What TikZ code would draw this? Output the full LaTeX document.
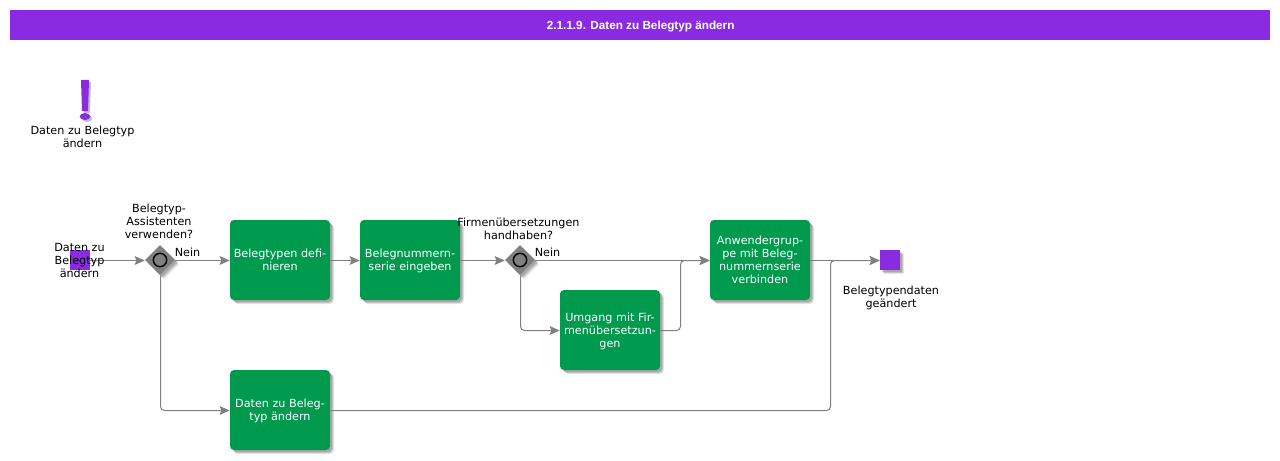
\documentclass[tikz,border=0pt]{standalone}
\usepackage{fontspec}
\setmainfont{DejaVu Sans}
\newfontfamily\titlefont{Liberation Sans}
\usetikzlibrary{shapes.geometric,shadows,arrows.meta}
\definecolor{bpurple}{HTML}{8A2BE2}
\definecolor{bgreen}{HTML}{009A4E}
\definecolor{bgray}{HTML}{808080}
\tikzset{
  softshadow/.style={
    general shadow={shadow xshift=3pt,shadow yshift=-3pt,fill=black,opacity=.10},
    general shadow={shadow xshift=2.25pt,shadow yshift=-2.25pt,fill=black,opacity=.14},
    general shadow={shadow xshift=1.5pt,shadow yshift=-1.5pt,fill=black,opacity=.14}},
  taskbox/.style={rectangle,rounded corners=3pt,fill=bgreen,text=white,minimum width=75pt,minimum height=60pt,inner sep=0pt,align=center,text depth=0pt,font=\fontsize{8.4pt}{9.75pt}\selectfont,softshadow},
  gate/.style={diamond,fill=bgray,minimum width=22.5pt,minimum height=22.5pt,inner sep=0pt,softshadow},
  gatering/.style={circle,draw=black,fill=bgray,line width=1.1pt,minimum size=10pt,inner sep=0pt},
  eventbox/.style={rectangle,fill=bpurple,minimum width=15pt,minimum height=15pt,inner sep=0pt},
  label/.style={text=black,inner sep=0pt,align=center,text depth=0pt,font=\fontsize{8.4pt}{9.75pt}\selectfont},
  flow/.style={draw=bgray,line width=.75pt,rounded corners=3pt,-{Stealth[length=7.5pt,width=6.5pt,inset=1.2pt]}},
  lo/.style={yshift=-.375pt},
  ri/.style={xshift=.375pt},
}
\begin{document}
\begin{tikzpicture}[x=0.75pt,y=-0.75pt]
\useasboundingbox (0,0) rectangle (1280,460);
\fill[white] (0,0) rectangle (1280,460);
\node[fill=bpurple,minimum width=945pt,minimum height=22.5pt,inner sep=0pt,text=white,font=\titlefont\bfseries\fontsize{8.8pt}{11pt}\selectfont] (title) at (640,25) {\rule{0pt}{7.9pt}\hspace{1pt}2.1.1.9. Daten zu Belegtyp ändern};
% exclamation mark
\begin{scope}[shift={(2,2)},opacity=.25]
\fill[black] (81,80) -- (89,80) -- (88,111) -- (82,111) -- cycle;
\fill[black] (85,116.5) ellipse (5.3 and 3.5);
\end{scope}
\fill[bpurple] (81,80) -- (89,80) -- (88,111) -- (82,111) -- cycle;
\fill[bpurple] (85,116.5) ellipse (5.3 and 3.5);
\node[label] (goal) at (82.5,136.5) {Daten zu Belegtyp\\ändern};
% nodes
\node[eventbox] (start) at (80,260) {};
\node[gate] (g1) at (160,260) {};
\node[gatering] (r1) at (160,260) {};
\node[taskbox] (t1) at (280,260) {Belegtypen defi-\\nieren};
\node[taskbox] (t2) at (410,260) {Belegnummern-\\serie eingeben};
\node[gate] (g2) at (520,260) {};
\node[gatering] (r2) at (520,260) {};
\node[taskbox] (t3) at (610,330) {Umgang mit Fir-\\menübersetzun-\\gen};
\node[taskbox] (t4) at (760,260) {Anwendergrup-\\pe mit Beleg-\\nummernserie\\verbinden};
\node[taskbox] (t5) at (280,410) {Daten zu Beleg-\\typ ändern};
\node[eventbox,softshadow] (end) at (890,260) {};
\coordinate (c1) at (160.5,410.5);
\coordinate (c2) at (520.5,330.5);
\coordinate (c3) at (680.5,330.5);
\coordinate (c4) at (680.5,260.5);
\coordinate (c5) at (830.5,410.5);
\coordinate (c6) at (830.5,260.5);
% connectors
\draw[flow] ([lo]start.east) -- ([lo]g1.west);
\draw[flow] ([lo]g1.east) -- ([lo]t1.west);
\draw[flow] ([lo]t1.east) -- ([lo]t2.west);
\draw[flow] ([lo]t2.east) -- ([lo]g2.west);
\draw[flow] ([lo]g2.east) -- ([lo]t4.west);
\draw[flow] ([ri]g2.south) -- (c2) -- ([lo]t3.west);
\draw[flow] ([lo]t3.east) -- (c3) -- (c4) -- ([lo]t4.west);
\draw[flow] ([ri]g1.south) -- (c1) -- ([lo]t5.west);
\draw[flow] ([lo]t4.east) -- ([lo]end.west);
\draw[flow] ([lo]t5.east) -- (c5) -- (c6) -- ([lo]end.west);
% labels
\node[label] (lstart) at (79.5,260) {Daten zu\\Belegtyp\\ändern};
\node[label] (lg1) at (159,221) {Belegtyp-\\Assistenten\\verwenden?};
\node[label] (lg2) at (518.5,228.5) {Firmenübersetzungen\\handhaben?};
\node[label] (n1) at (187.5,252.7) {Nein};
\node[label] (n2) at (547.5,252.7) {Nein};
\node[label] (lend) at (891,296.5) {Belegtypendaten\\geändert};
\end{tikzpicture}
\end{document}
